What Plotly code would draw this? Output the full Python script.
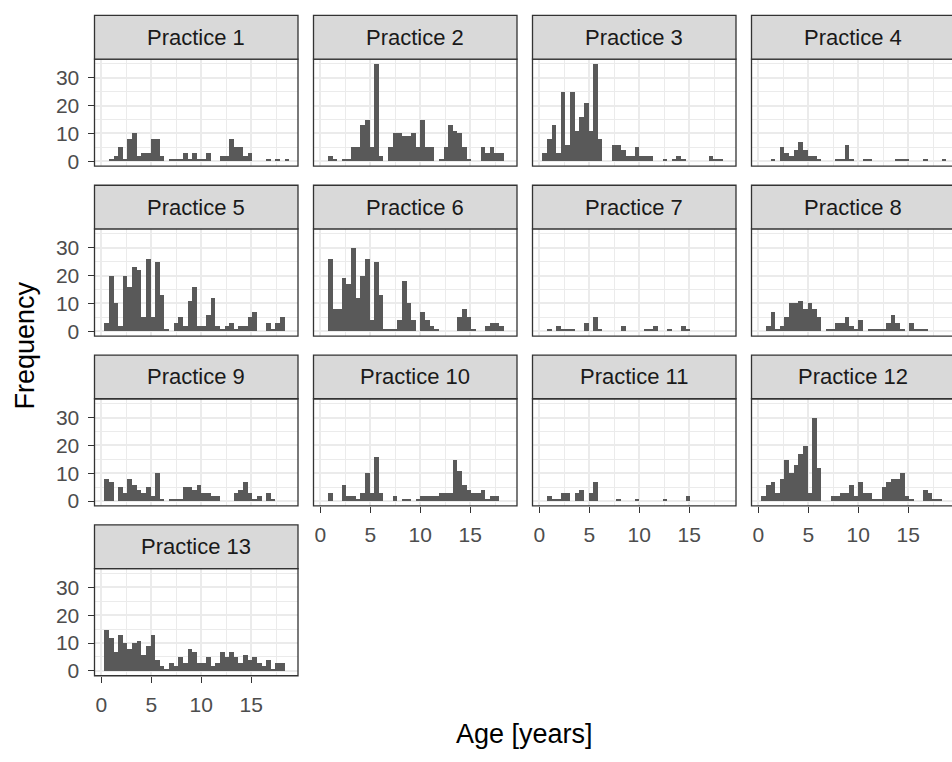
import plotly.graph_objects as go

# ---------------- data (counts per age bin) ----------------
bin_start = 0.25          # left edge of first bin [years]
bin_width = 0.4625        # histogram bin width [years]
n_bins = 40
bin_centers = [bin_start + bin_width * (k + 0.5) for k in range(n_bins)]

practice_names = [f"Practice {i}" for i in range(1, 14)]

p1 = [0,1,2,5,1,8,10,2,3,3, 8,8,2,0,1,1,1,3,1,3, 1,1,3,0,0,2,2,8,5,5, 2,3,0,0,0,1,0,1,0,1]
p2 = [0,2,1,0,1,1,5,5,13,15, 5,35,2,0,5,10,10,9,9,10, 5,15,5,5,0,1,5,13,11,10, 5,1,0,0,5,3,5,3,3,0]
p3 = [3,8,13,3,25,6,25,11,16,21, 11,35,8,0,0,6,6,4,2,2, 5,2,2,2,0,0,1,0,1,2, 1,0,0,0,0,0,2,1,1,0]
p4 = [0,0,1,0,5,3,2,4,7,4, 2,2,1,0,0,0,1,1,6,1, 0,0,1,1,0,0,0,0,0,1, 1,1,0,0,0,1,0,0,0,1]
p5 = [3,20,10,2,20,16,23,22,5,26, 5,25,13,1,0,3,5,2,11,16, 2,2,6,12,2,1,2,3,1,2, 2,5,7,0,0,3,1,3,5,0]
p6 = [0,26,8,8,19,17,30,12,20,26, 4,25,13,1,1,1,4,18,10,4, 0,7,4,2,1,0,0,0,0,5, 8,5,1,0,0,2,3,3,2,0]
p7 = [0,1,0,2,1,1,1,0,0,3, 0,5,1,0,0,0,0,2,0,0, 0,0,1,1,2,0,0,1,0,0, 2,1,0,0,0,0,0,0,0,0]
p8 = [0,2,7,1,2,5,10,10,11,8, 10,8,5,0,1,1,3,3,5,2, 1,4,0,1,1,1,1,3,6,3, 1,0,3,1,1,1,0,0,0,0]
p9 = [8,7,0,5,3,8,6,4,3,5, 2,10,1,0,1,1,1,5,5,4, 6,3,3,2,2,0,0,0,3,4, 7,3,1,2,0,3,1,0,0,0]
p10 = [0,3,0,0,6,2,2,1,3,10, 3,16,3,0,0,2,0,1,1,0, 1,2,2,2,2,3,3,3,15,11, 6,4,3,3,4,1,2,2,0,0]
p11 = [0,2,1,1,3,3,0,3,4,0, 3,7,0,0,0,0,1,0,0,0, 1,0,0,0,0,0,1,0,0,0, 0,2,0,0,0,0,0,0,0,0]
p12 = [2,6,7,3,8,15,10,13,17,20, 3,30,12,0,0,2,2,3,3,6, 2,7,3,3,1,1,5,7,8,8, 10,2,1,0,0,4,3,1,1,0]
p13 = [15,12,7,13,10,8,10,11,6,9, 13,4,2,1,3,2,5,3,8,7, 3,3,5,2,3,7,5,7,5,3, 6,4,5,3,2,4,1,3,3,0]

all_counts = [p1, p2, p3, p4, p5, p6, p7, p8, p9, p10, p11, p12, p13]

x_ticks = [0, 5, 10, 15]
x_minor = [2.5, 7.5, 12.5, 17.5]
y_ticks = [0, 10, 20, 30]
y_minor = [5, 15, 25, 35]
x_range = [-0.675, 19.675]
y_range = [-1.75, 36.75]

# ---------------- geometry (pixels) ----------------
W, H = 952, 762
col_left = [94.5, 313.5, 532.5, 751.5]
panel_w = 203.5
row_top = [59.5, 230.7, 401.9, 573.1]
panel_h = 108.0
strip_h = 44.0
ncol = 4

BAR = "#595959"
GRID = "#EBEBEB"
BORDER = "#333333"
STRIP_FILL = "#D9D9D9"
TICK_TXT = "#4D4D4D"
FONT = "Liberation Sans, Arial, sans-serif"

fig = go.Figure()
shapes = []
annotations = []
layout_axes = {}

px_per_year = panel_w / (x_range[1] - x_range[0])

for i, (name, counts) in enumerate(zip(practice_names, all_counts)):
    r, c = divmod(i, ncol)
    idx = i + 1
    xa = "x" if idx == 1 else f"x{idx}"
    ya = "y" if idx == 1 else f"y{idx}"
    x0 = col_left[c]
    x1 = x0 + panel_w
    yt = row_top[r]
    yb = yt + panel_h

    # visible range (last column is cut off at the window edge)
    x1_vis = min(x1, W)
    xr = [x_range[0], x_range[0] + (x1_vis - x0) / px_per_year]

    fig.add_trace(go.Bar(
        x=bin_centers, y=counts, width=[bin_width] * n_bins,
        marker=dict(color=BAR, line=dict(width=0)),
        xaxis=xa, yaxis=ya, showlegend=False, hoverinfo="x+y",
    ))

    below = i + ncol
    show_x = below >= len(practice_names)
    show_y = (c == 0)

    layout_axes[("xaxis" if idx == 1 else f"xaxis{idx}")] = dict(
        domain=[x0 / W, x1_vis / W], anchor=ya, range=xr,
        tickmode="array", tickvals=x_ticks, ticktext=[str(v) for v in x_ticks],
        showticklabels=show_x, ticks="outside" if show_x else "",
        ticklen=6, tickwidth=1.4, tickcolor=BORDER,
        tickfont=dict(size=21, color=TICK_TXT, family=FONT),
        ticklabelstandoff=4,
        showgrid=True, gridcolor=GRID, gridwidth=2,
        minor=dict(tickmode="array", tickvals=x_minor, showgrid=True,
                   gridcolor=GRID, gridwidth=1, ticks=""),
        zeroline=False, showline=False, fixedrange=True,
    )
    layout_axes[("yaxis" if idx == 1 else f"yaxis{idx}")] = dict(
        domain=[1 - yb / H, 1 - yt / H], anchor=xa, range=y_range,
        tickmode="array", tickvals=y_ticks, ticktext=[str(v) for v in y_ticks],
        showticklabels=show_y, ticks="outside" if show_y else "",
        ticklen=6, tickwidth=1.4, tickcolor=BORDER,
        tickfont=dict(size=21, color=TICK_TXT, family=FONT),
        ticklabelstandoff=4,
        showgrid=True, gridcolor=GRID, gridwidth=2,
        minor=dict(tickmode="array", tickvals=y_minor, showgrid=True,
                   gridcolor=GRID, gridwidth=1, ticks=""),
        zeroline=False, showline=False, fixedrange=True,
    )

    # panel border
    shapes.append(dict(type="rect", xref="paper", yref="paper",
                       x0=x0 / W, x1=x1 / W, y0=1 - yb / H, y1=1 - yt / H,
                       line=dict(color=BORDER, width=1.3), fillcolor="rgba(0,0,0,0)",
                       layer="above"))
    # strip
    shapes.append(dict(type="rect", xref="paper", yref="paper",
                       x0=x0 / W, x1=x1 / W, y0=1 - yt / H, y1=1 - (yt - strip_h) / H,
                       line=dict(color=BORDER, width=1.3), fillcolor=STRIP_FILL,
                       layer="above"))
    annotations.append(dict(text=name, xref="paper", yref="paper",
                            x=(x0 + x1) / 2 / W, y=1 - (yt - strip_h / 2) / H,
                            xanchor="center", yanchor="middle", showarrow=False,
                            font=dict(size=22, color="#1A1A1A", family=FONT)))

# axis titles
annotations.append(dict(text="Age [years]", xref="paper", yref="paper",
                        x=(col_left[0] + col_left[3] + panel_w) / 2 / W, y=1 - 740 / H,
                        xanchor="center", yanchor="middle", showarrow=False,
                        font=dict(size=27, color="#000000", family=FONT)))
annotations.append(dict(text="Frequency", xref="paper", yref="paper",
                        x=25 / W, y=1 - ((row_top[0] - strip_h) + row_top[3] + panel_h) / 2 / H,
                        xanchor="center", yanchor="middle", showarrow=False, textangle=-90,
                        font=dict(size=27, color="#000000", family=FONT)))

fig.update_layout(
    width=W, height=H, autosize=False,
    margin=dict(l=0, r=0, t=0, b=0, pad=0),
    paper_bgcolor="white", plot_bgcolor="white",
    bargap=0, barmode="overlay",
    shapes=shapes, annotations=annotations,
    showlegend=False,
    **layout_axes,
)

fig.write_html("out.html")
